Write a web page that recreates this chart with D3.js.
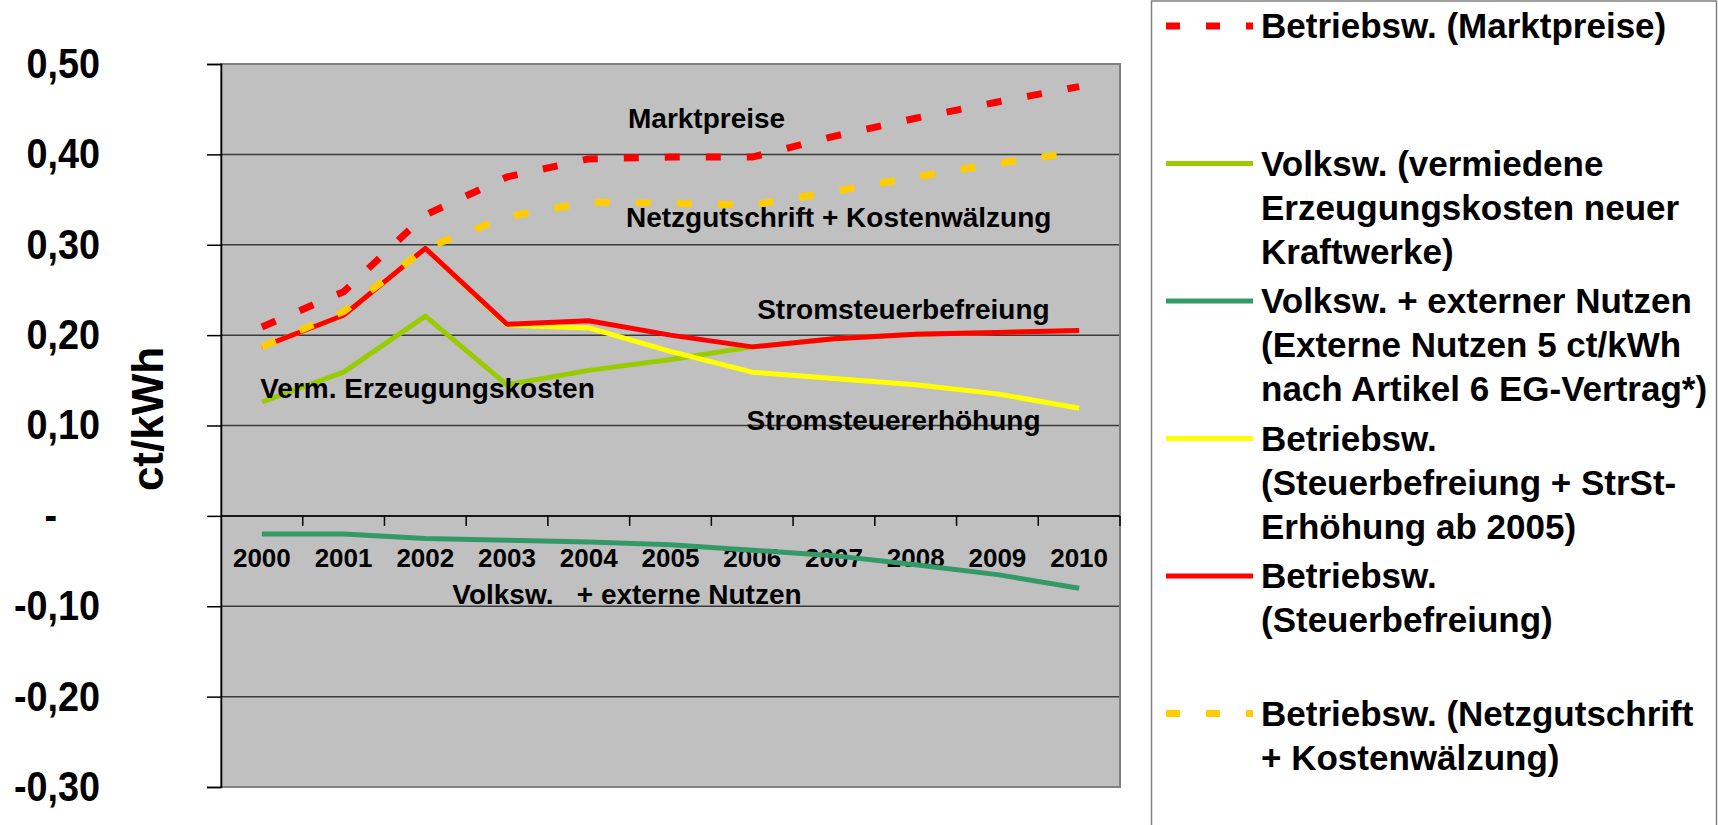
<!DOCTYPE html>
<html>
<head>
<meta charset="utf-8">
<script src="https://cdn.jsdelivr.net/npm/d3@7"></script>
<style>
body { margin: 0; background: #fff; }
svg { display: block; font-family: "Liberation Sans", Arial, sans-serif; font-weight: bold; }
</style>
</head>
<body>
<svg id="view" width="1718" height="825"></svg>
<script>
// DATA
var YEARS = [2000, 2001, 2002, 2003, 2004, 2005, 2006, 2007, 2008, 2009, 2010];

var MARKTPREISE = [0.209, 0.248, 0.333, 0.375, 0.395, 0.397, 0.397, 0.420, 0.440, 0.458, 0.475];
var VERMIEDENE  = [0.126, 0.159, 0.221, 0.145, 0.161, 0.173, 0.187, 0.196, 0.201, 0.203, 0.205];
var EXTERN      = [-0.020, -0.020, -0.025, -0.027, -0.029, -0.032, -0.038, -0.044, -0.054, -0.065, -0.080];
var STRST_ERH   = [0.187, 0.222, 0.296, 0.211, 0.208, 0.182, 0.159, 0.152, 0.145, 0.135, 0.119];
var STEUERBEFR  = [0.187, 0.222, 0.296, 0.212, 0.216, 0.200, 0.187, 0.196, 0.201, 0.203, 0.205];
var NETZGUT     = [0.187, 0.226, 0.296, 0.331, 0.347, 0.346, 0.344, 0.359, 0.375, 0.390, 0.403];

var Y_TICKS = [-0.3, -0.2, -0.1, 0, 0.1, 0.2, 0.3, 0.4, 0.5];

var LEGEND_LABELS = [
    ["Betriebsw. (Marktpreise)"],
    ["Volksw. (vermiedene", "Erzeugungskosten neuer", "Kraftwerke)"],
    ["Volksw. + externer Nutzen", "(Externe Nutzen 5 ct/kWh", "nach Artikel 6 EG-Vertrag*)"],
    ["Betriebsw.", "(Steuerbefreiung + StrSt-", "Erhöhung ab 2005)"],
    ["Betriebsw.", "(Steuerbefreiung)"],
    ["Betriebsw. (Netzgutschrift", "+ Kostenwälzung)"],
];

// annotation texts, anchored at [year index, value]
var NOTES = [
    {text: "Marktpreise", at: [4.48, 0.429]},
    {text: "Netzgutschrift + Kostenwälzung", at: [4.455, 0.320]},
    {text: "Stromsteuerbefreiung", at: [6.06, 0.218]},
    {text: "Stromsteuererhöhung", at: [5.93, 0.095]},
    {text: "Verm. Erzeugungskosten", at: [-0.02, 0.1305]},
    {text: "Volksw.   + externe Nutzen", at: [2.33, -0.0973]},
];

// STYLE
var RED = "#ff0000";
var ORANGE = "#ffcc00";
var YELLOW = "#ffff00";
var LIGHT_GREEN = "#99cc00";
var DARK_GREEN = "#339966";
var DASH = "15,26";

var SERIES = [
    {values: MARKTPREISE, color: RED, dash: DASH, width: 7},
    {values: VERMIEDENE, color: LIGHT_GREEN, dash: null, width: 5},
    {values: EXTERN, color: DARK_GREEN, dash: null, width: 5},
    {values: STRST_ERH, color: YELLOW, dash: null, width: 5},
    {values: STEUERBEFR, color: RED, dash: null, width: 5},
    {values: NETZGUT, color: ORANGE, dash: DASH, width: 7},
];

var PLOT = {left: 221, right: 1120, top: 64, bottom: 787};

var locale = d3.formatLocale({decimal: ",", thousands: ".", grouping: [3], currency: ["", "€"], minus: "-"});
var fmt = locale.format(".2f");

function main() {
    var svg = d3.select("#view");

    var x = d3.scaleBand().domain(YEARS).range([PLOT.left, PLOT.right]);
    var cx = function(year) { return x(year) + x.bandwidth() / 2; };
    var xi = d3.scaleLinear().domain([0, YEARS.length - 1])
        .range([cx(YEARS[0]), cx(YEARS[YEARS.length - 1])]);
    var y = d3.scaleLinear().domain([-0.3, 0.5]).range([PLOT.bottom, PLOT.top]);

    // plot area
    svg.append("rect")
        .attr("x", PLOT.left)
        .attr("y", PLOT.top)
        .attr("width", PLOT.right - PLOT.left)
        .attr("height", PLOT.bottom - PLOT.top)
        .attr("fill", "#c0c0c0");

    // gridlines
    svg.append("g")
        .selectAll("line")
        .data(Y_TICKS)
        .join("line")
        .attr("x1", PLOT.left)
        .attr("x2", PLOT.right)
        .attr("y1", function(d) { return y(d); })
        .attr("y2", function(d) { return y(d); })
        .attr("stroke", "#3a3a3a")
        .attr("stroke-width", 1.5);

    svg.append("rect")
        .attr("x", PLOT.left)
        .attr("y", PLOT.top)
        .attr("width", PLOT.right - PLOT.left)
        .attr("height", PLOT.bottom - PLOT.top)
        .attr("fill", "none")
        .attr("stroke", "#808080")
        .attr("stroke-width", 2);

    // value axis
    var yAxis = d3.axisLeft(y)
        .tickValues(Y_TICKS)
        .tickSize(14)
        .tickPadding(107)
        .tickFormat(function(d) { return Math.abs(d) < 1e-9 ? "-" : fmt(d); });
    var ya = svg.append("g")
        .attr("transform", "translate(" + PLOT.left + ",0)")
        .call(yAxis);
    ya.select(".domain").attr("stroke", "#000").attr("stroke-width", 1.5);
    ya.selectAll(".tick line").attr("stroke", "#000").attr("stroke-width", 1.5);
    ya.selectAll(".tick text")
        .attr("x", 0)
        .attr("fill", "#000")
        .attr("font-size", 42)
        .attr("font-family", "'Liberation Sans', Arial, sans-serif")
        .attr("font-weight", "bold")
        .attr("transform", function(d) {
            var dx = Math.abs(d) < 1e-9 ? -164 : -121;
            return "translate(" + dx + ",0) scale(0.9,1)";
        });

    svg.append("text")
        .attr("transform", "translate(163,419) rotate(-90)")
        .attr("text-anchor", "middle")
        .attr("font-size", 44)
        .text("ct/kWh");

    // category axis on zero line
    var y0 = y(0);
    svg.append("line")
        .attr("x1", PLOT.left)
        .attr("x2", PLOT.right)
        .attr("y1", y0)
        .attr("y2", y0)
        .attr("stroke", "#000")
        .attr("stroke-width", 1.5);
    svg.append("g")
        .selectAll("line")
        .data(YEARS)
        .join("line")
        .attr("x1", function(d) { return x(d) + x.bandwidth(); })
        .attr("x2", function(d) { return x(d) + x.bandwidth(); })
        .attr("y1", y0)
        .attr("y2", y0 + 10)
        .attr("stroke", "#000")
        .attr("stroke-width", 1.5);
    svg.append("g")
        .selectAll("text")
        .data(YEARS)
        .join("text")
        .attr("x", function(d) { return cx(d); })
        .attr("y", y0 + 51)
        .attr("text-anchor", "middle")
        .attr("font-size", 26)
        .text(function(d) { return d; });

    // series
    var line = d3.line()
        .x(function(d, i) { return cx(YEARS[i]); })
        .y(function(d) { return y(d); })
        .curve(d3.curveLinear);
    svg.append("g")
        .selectAll("path")
        .data(SERIES)
        .join("path")
        .attr("d", function(s) { return line(s.values); })
        .attr("fill", "none")
        .attr("stroke", function(s) { return s.color; })
        .attr("stroke-width", function(s) { return s.width; })
        .attr("stroke-dasharray", function(s) { return s.dash; })
        .attr("stroke-linejoin", "round");

    // annotations
    svg.append("g")
        .selectAll("text")
        .data(NOTES)
        .join("text")
        .attr("x", function(d) { return xi(d.at[0]); })
        .attr("y", function(d) { return y(d.at[1]); })
        .attr("font-size", 28)
        .style("white-space", "pre")
        .text(function(d) { return d.text; });

    // legend
    var legend = svg.append("g");
    legend.append("rect")
        .attr("x", 1151.5)
        .attr("y", 1)
        .attr("width", 565)
        .attr("height", 900)
        .attr("fill", "#fff")
        .attr("stroke", "#808080")
        .attr("stroke-width", 1.5);
    var item = legend.selectAll("g.item")
        .data(SERIES)
        .join("g")
        .attr("class", "item")
        .attr("transform", function(d, i) { return "translate(0," + (26 + i * 137.5) + ")"; });
    item.append("line")
        .attr("x1", 1166)
        .attr("x2", 1253)
        .attr("y1", 0)
        .attr("y2", 0)
        .attr("stroke", function(s) { return s.color; })
        .attr("stroke-width", function(s) { return s.dash ? 7 : 5; })
        .attr("stroke-dasharray", function(s) { return s.dash ? "14,26" : null; });
    item.each(function(s, i) {
        d3.select(this).selectAll("text")
            .data(LEGEND_LABELS[i])
            .join("text")
            .attr("x", 1261)
            .attr("y", function(d, j) { return 12 + j * 44; })
            .attr("font-size", 35)
            .text(function(d) { return d; });
    });
}

main();
</script>
</body>
</html>
